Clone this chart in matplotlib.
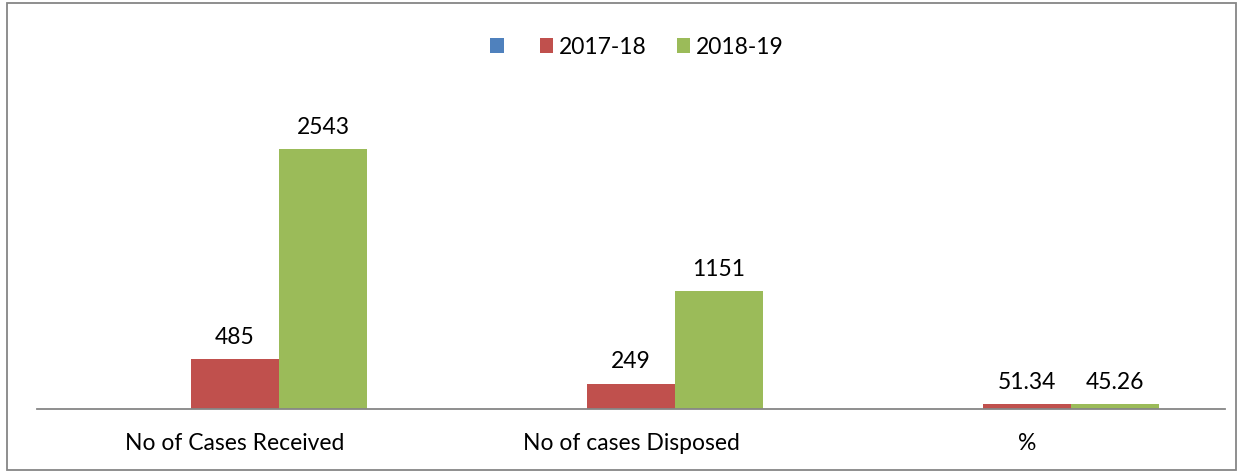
import matplotlib
matplotlib.use("Agg")
import matplotlib.pyplot as plt
import numpy as np
from matplotlib.patches import Rectangle

categories = ["No of Cases Received", "No of cases Disposed", "%"]
series_names = ["", "2017-18", "2018-19"]
values_blank = [0, 0, 0]
values_1718 = [485, 249, 51.34]
values_1819 = [2543, 1151, 45.26]
labels_1718 = ["485", "249", "51.34"]
labels_1819 = ["2543", "1151", "45.26"]
colors = ["#4F81BD", "#C0504D", "#9BBB59"]

plt.rcParams['font.family'] = ['Lato', 'DejaVu Sans']
FS = 16.5

fig = plt.figure(figsize=(12.42, 4.73), dpi=100)
W, H = 1242, 473
ax = fig.add_axes([37 / W, 1 - 409 / H, (1225 - 37) / W, (409 - 102) / H])

x = np.arange(len(categories))
bw = 88 / 396
ax.bar(x - bw, values_blank, bw, color=colors[0], label=series_names[0])
b1 = ax.bar(x, values_1718, bw, color=colors[1], label=series_names[1])
b2 = ax.bar(x + bw, values_1819, bw, color=colors[2], label=series_names[2])

for bars, labs in ((b1, labels_1718), (b2, labels_1819)):
    for r, t in zip(bars, labs):
        ax.annotate(t, (r.get_x() + r.get_width() / 2, r.get_height()),
                    xytext=(0, 8), textcoords="offset points",
                    ha="center", va="bottom", fontsize=FS, color="#000000")

ax.set_xlim(-0.5, 2.5)
ax.set_ylim(0, 3000)
ax.set_yticks([])
ax.set_xticks(x)
ax.set_xticklabels(categories, fontsize=FS)
ax.tick_params(axis='x', length=0, pad=17)
for s in ("top", "right", "left"):
    ax.spines[s].set_visible(False)
ax.spines["bottom"].set_color("#868686")
ax.spines["bottom"].set_linewidth(1.3)

leg = fig.legend(handles=[b for b in ax.containers], labels=series_names,
                 loc="center", bbox_to_anchor=(637 / W, 1 - 47 / H), ncol=3,
                 frameon=False, fontsize=FS, handlelength=0.6, handleheight=0.6,
                 handletextpad=0.25, columnspacing=1.3)

fig.patches.append(Rectangle((7 / W, 3 / H), (1236 - 7) / W, (470 - 3) / H,
                             transform=fig.transFigure, fill=False,
                             edgecolor="#868686", linewidth=1.3))

fig.savefig("out.png", dpi=100)
